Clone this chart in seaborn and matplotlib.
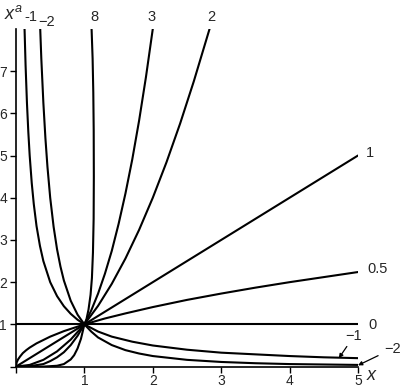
import numpy as np
import pandas as pd
import matplotlib
matplotlib.use("Agg")
import matplotlib.pyplot as plt
import seaborn as sns

# curves y = x^a, values for each exponent
x_a1 = [0, 5]
y_a1 = [0, 5]

x_a0 = [0, 5]
y_a0 = [1, 1]

x_a05 = [0, 0.01, 0.03, 0.06, 0.1, 0.15, 0.2, 0.3, 0.4, 0.5, 0.7, 1, 1.3, 1.6, 2, 2.5, 3, 3.5, 4, 4.5, 5]
y_a05 = [0, 0.10, 0.17, 0.24, 0.32, 0.39, 0.45, 0.55, 0.63, 0.71, 0.84, 1, 1.14, 1.26, 1.41, 1.58, 1.73, 1.87, 2.0, 2.12, 2.24]

x_a2 = [0, 0.2, 0.4, 0.6, 0.8, 1, 1.2, 1.4, 1.6, 1.8, 2, 2.2, 2.4, 2.6, 2.83]
y_a2 = [0, 0.04, 0.16, 0.36, 0.64, 1, 1.44, 1.96, 2.56, 3.24, 4, 4.84, 5.76, 6.76, 8]

x_a3 = [0, 0.2, 0.4, 0.5, 0.6, 0.7, 0.8, 0.9, 1, 1.1, 1.2, 1.3, 1.4, 1.5, 1.6, 1.7, 1.8, 1.9, 2]
y_a3 = [0, 0.01, 0.06, 0.13, 0.22, 0.34, 0.51, 0.73, 1, 1.33, 1.73, 2.20, 2.74, 3.38, 4.10, 4.91, 5.83, 6.86, 8]

x_a8 = [0, 0.4, 0.5, 0.6, 0.7, 0.8, 0.85, 0.9, 0.95, 1, 1.03, 1.06, 1.09, 1.11, 1.125, 1.135, 1.138, 1.136, 1.13, 1.12, 1.105]
y_a8 = [0, 0.0, 0.01, 0.02, 0.06, 0.17, 0.27, 0.43, 0.66, 1, 1.12, 1.35, 1.7, 2.1, 2.7, 3.5, 4.5, 5.6, 6.5, 7.3, 8.0]

x_am1 = [0.125, 0.14, 0.16, 0.18, 0.2, 0.23, 0.26, 0.3, 0.35, 0.4, 0.5, 0.6, 0.7, 0.8, 0.9, 1, 1.2, 1.4, 1.7, 2, 2.5, 3, 3.5, 4, 4.5, 5]
y_am1 = [8, 7.14, 6.25, 5.56, 5, 4.35, 3.85, 3.33, 2.86, 2.5, 2, 1.67, 1.43, 1.25, 1.11, 1, 0.83, 0.71, 0.59, 0.5, 0.4, 0.33, 0.29, 0.25, 0.22, 0.2]

x_am2 = [0.354, 0.37, 0.4, 0.43, 0.46, 0.5, 0.55, 0.6, 0.65, 0.7, 0.8, 0.9, 1, 1.1, 1.2, 1.4, 1.6, 1.8, 2, 2.5, 3, 3.5, 4, 4.5, 5]
y_am2 = [8, 7.30, 6.25, 5.41, 4.73, 4, 3.31, 2.78, 2.37, 2.04, 1.56, 1.23, 1, 0.83, 0.69, 0.51, 0.39, 0.31, 0.25, 0.16, 0.11, 0.08, 0.06, 0.05, 0.04]

curves = [(x_a1, y_a1), (x_a0, y_a0), (x_a05, y_a05), (x_a2, y_a2), (x_a3, y_a3),
          (x_a8, y_a8), (x_am1, y_am1), (x_am2, y_am2)]

x_ticks = [0, 1, 2, 3, 4, 5]
x_tick_labels = ["", "1", "2", "3", "4", "5"]
y_ticks = [0, 1, 2, 3, 4, 5, 6, 7]
y_tick_labels = ["", "1", "2", "3", "4", "5", "6", "7"]

sns.set_style("ticks")
plt.rcParams["font.family"] = ["Liberation Sans", "DejaVu Sans"]
plt.rcParams["mathtext.fontset"] = "custom"
plt.rcParams["mathtext.it"] = "Liberation Sans:italic"
plt.rcParams["mathtext.rm"] = "Liberation Sans"

fig = plt.figure(figsize=(4.0, 3.9), dpi=100)
ax = fig.add_axes([0.04, 0.06, 0.855, 0.866])

for xs, ys in curves:
    df = pd.DataFrame({"x": xs, "y": ys})
    sns.lineplot(data=df, x="x", y="y", sort=False, estimator=None,
                 color="black", linewidth=1.5, ax=ax)

ax.set_xlim(0, 5)
ax.set_ylim(0, 8)
ax.set_xticks(x_ticks)
ax.set_xticklabels(x_tick_labels)
ax.set_yticks(y_ticks)
ax.set_yticklabels(y_tick_labels)
ax.tick_params(length=4, width=1, labelsize=10, pad=2.5, color="black")
ax.tick_params(axis="x", pad=1)
ax.set_xlabel("")
ax.set_ylabel("")
sns.despine(ax=ax)
for s in ["left", "bottom"]:
    ax.spines[s].set_linewidth(1.2)
    ax.spines[s].set_color("black")

fs = 10.5
ax.text(0.22, 8.28, "-1", ha="center", va="center", fontsize=fs)
ax.text(0.45, 8.16, "\u22122", ha="center", va="center", fontsize=fs)
ax.text(1.15, 8.28, "8", ha="center", va="center", fontsize=fs)
ax.text(1.98, 8.28, "3", ha="center", va="center", fontsize=fs)
ax.text(2.85, 8.28, "2", ha="center", va="center", fontsize=fs)
ax.text(5.12, 5.06, "1", ha="left", va="center", fontsize=fs)
ax.text(5.13, 2.31, "0.5", ha="left", va="center", fontsize=fs)
ax.text(5.15, 0.98, "0", ha="left", va="center", fontsize=fs)
ax.annotate("\u22121", xy=(4.72, 0.2), xytext=(4.94, 0.72), ha="center", va="center",
            fontsize=fs, arrowprops=dict(arrowstyle="-|>", color="black", lw=0.9,
                                         mutation_scale=6, shrinkA=0, shrinkB=0))
ax.annotate("\u22122", xy=(5.0, 0.03), xytext=(5.5, 0.42), ha="center", va="center",
            fontsize=fs, annotation_clip=False,
            arrowprops=dict(arrowstyle="-|>", color="black", lw=0.9,
                            mutation_scale=6, shrinkA=2, shrinkB=0))
ax.text(5.2, -0.22, "$x$", ha="center", va="center", fontsize=13)
ax.text(-0.03, 8.36, "$x^a$", ha="center", va="center", fontsize=13)

fig.savefig("out.png", dpi=100)
